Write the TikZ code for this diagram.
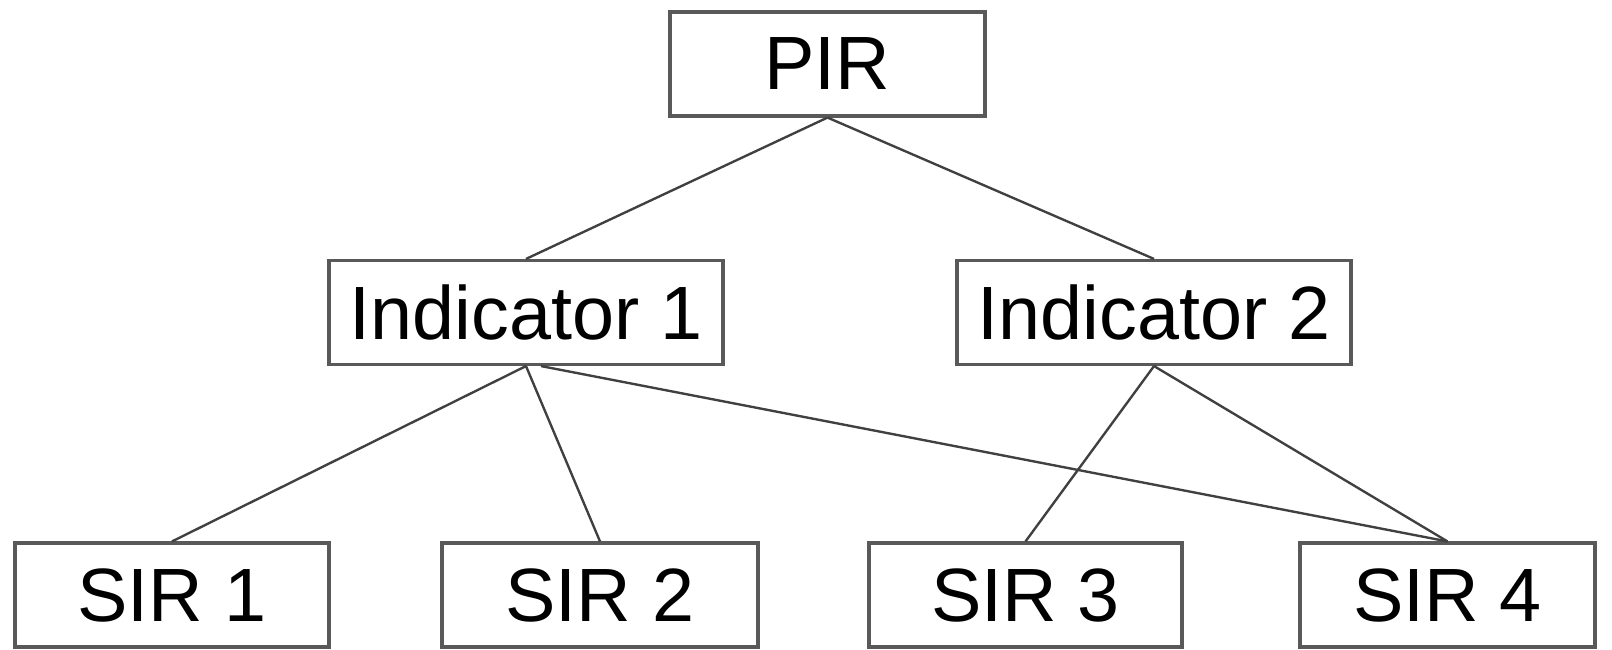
\documentclass[tikz,border=0pt]{standalone}
\usepackage{fontspec}
\setmainfont{Liberation Sans}
\usepackage{tikz}
\tikzset{
    box/.style={draw=black!65, line width=1.8pt, inner sep=0pt,
        minimum height=2.08cm, font=\fontsize{43}{50}\selectfont},
    link/.style={draw=black!75, line width=1.35pt},
}

\begin{document}
\begin{tikzpicture}[x=0.02cm, y=-0.02cm]
            \useasboundingbox (0,0) rectangle (1612,649);
            \node[box, minimum width=6.3cm] (pir) at (827.5,64) {PIR};
            \node[box, minimum width=7.88cm] (ind1) at (526,312.5) {Indicator 1};
            \node[box, minimum width=7.88cm] (ind2) at (1154,312.5) {Indicator 2};
            \node[box, minimum width=6.28cm] (sir1) at (172,595) {SIR 1};
            \node[box, minimum width=6.32cm] (sir2) at (600,595) {SIR 2};
            \node[box, minimum width=6.26cm] (sir3) at (1025.5,595) {SIR 3};
            \node[box, minimum width=5.9cm] (sir4) at (1447.5,595) {SIR 4};
            \draw[link] (pir.south) -- (ind1.north);
            \draw[link] (pir.south) -- (ind2.north);
            \draw[link] (ind1.south) -- (sir1.north);
            \draw[link] (ind1.south) -- (sir2.north);
            \draw[link] ([xshift=0.3cm]ind1.south) -- (sir4.north);
            \draw[link] (ind2.south) -- (sir3.north);
            \draw[link] (ind2.south) -- (sir4.north);
        \end{tikzpicture}
\end{document}
